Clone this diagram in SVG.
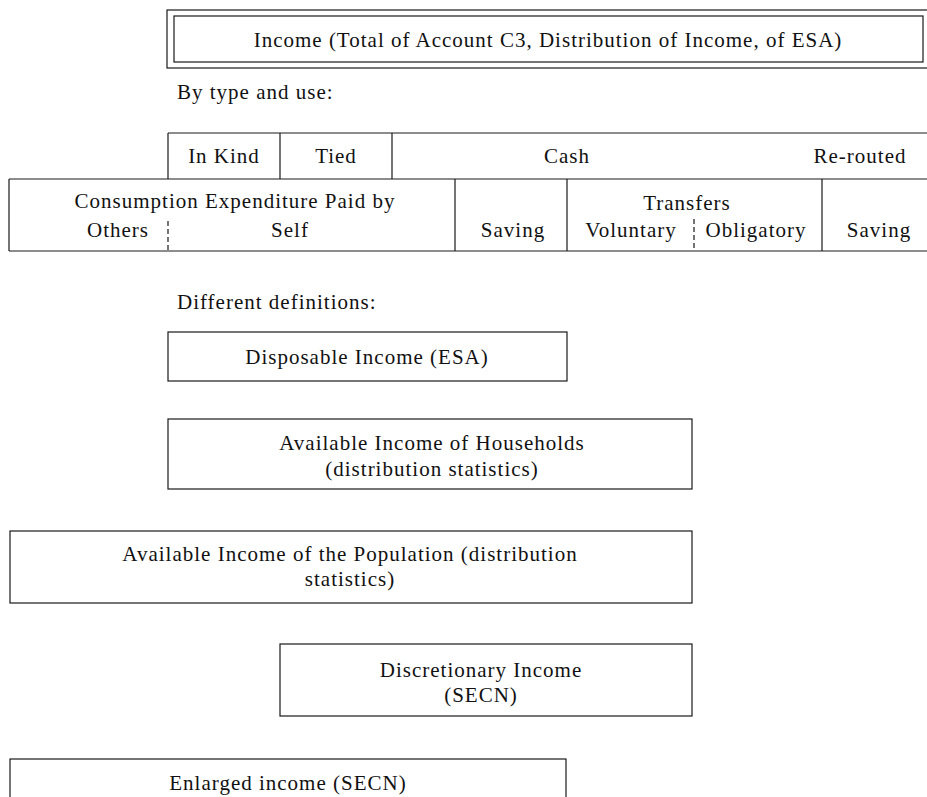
<svg xmlns="http://www.w3.org/2000/svg" width="927" height="797" viewBox="0 0 927 797">
<style>
  .bg { fill: #ffffff; }
  .box { fill: none; stroke: #1a1a1a; stroke-width: 1.2; }
  .ln { stroke: #1a1a1a; stroke-width: 1.2; fill: none; }
  .dash { stroke: #1a1a1a; stroke-width: 1.2; stroke-dasharray: 5 3; fill: none; }
  .t { font-family: "Liberation Serif", "Times New Roman", serif; font-size: 21px; letter-spacing: 1px; fill: #111; }
  .c { text-anchor: middle; }
</style>
<rect class="bg" x="0" y="0" width="927" height="797"/>

<g id="income-total">
  <rect class="box" x="167" y="10" width="770" height="58"/>
  <rect class="box" x="174" y="16" width="749" height="46"/>
  <text class="t c" x="548" y="47">Income (Total of Account C3, Distribution of Income, of ESA)</text>
</g>

<g id="label-type-use">
  <text class="t" x="177" y="99">By type and use:</text>
</g>

<g id="header-row">
  <path class="ln" d="M168 133 H927 M168 133 V179 M280 133 V179 M392 133 V179"/>
  <text class="t c" x="224" y="163">In Kind</text>
  <text class="t c" x="336" y="163">Tied</text>
  <text class="t c" x="567" y="163">Cash</text>
  <text class="t c" x="860" y="163">Re-routed</text>
</g>

<g id="use-row">
  <path class="ln" d="M9 179 H927 M9 251 H927 M9 179 V251 M455 179 V251 M567 179 V251 M822 179 V251"/>
  <path class="dash" d="M168 221 V251 M694 219 V251"/>
  <text class="t c" x="235" y="208">Consumption Expenditure Paid by</text>
  <text class="t c" x="118" y="237">Others</text>
  <text class="t c" x="290" y="237">Self</text>
  <text class="t c" x="513" y="237">Saving</text>
  <text class="t c" x="687" y="210">Transfers</text>
  <text class="t c" x="631" y="237">Voluntary</text>
  <text class="t c" x="756" y="237">Obligatory</text>
  <text class="t c" x="879" y="237">Saving</text>
</g>

<g id="label-definitions">
  <text class="t" x="177" y="309">Different definitions:</text>
</g>

<g id="disposable-income">
  <rect class="box" x="168" y="332" width="399" height="49"/>
  <text class="t c" x="367" y="364">Disposable Income (ESA)</text>
</g>

<g id="available-households">
  <rect class="box" x="168" y="419" width="524" height="70"/>
  <text class="t c" x="432" y="450">Available Income of Households</text>
  <text class="t c" x="432" y="476">(distribution statistics)</text>
</g>

<g id="available-population">
  <rect class="box" x="10" y="531" width="682" height="72"/>
  <text class="t c" x="350" y="561">Available Income of the Population (distribution</text>
  <text class="t c" x="350" y="586">statistics)</text>
</g>

<g id="discretionary-income">
  <rect class="box" x="280" y="644" width="412" height="72"/>
  <text class="t c" x="481" y="677">Discretionary Income</text>
  <text class="t c" x="481" y="702">(SECN)</text>
</g>

<g id="enlarged-income">
  <rect class="box" x="10" y="759" width="556" height="60"/>
  <text class="t c" x="288" y="790">Enlarged income (SECN)</text>
</g>

<g id="connectors"></g>
</svg>
